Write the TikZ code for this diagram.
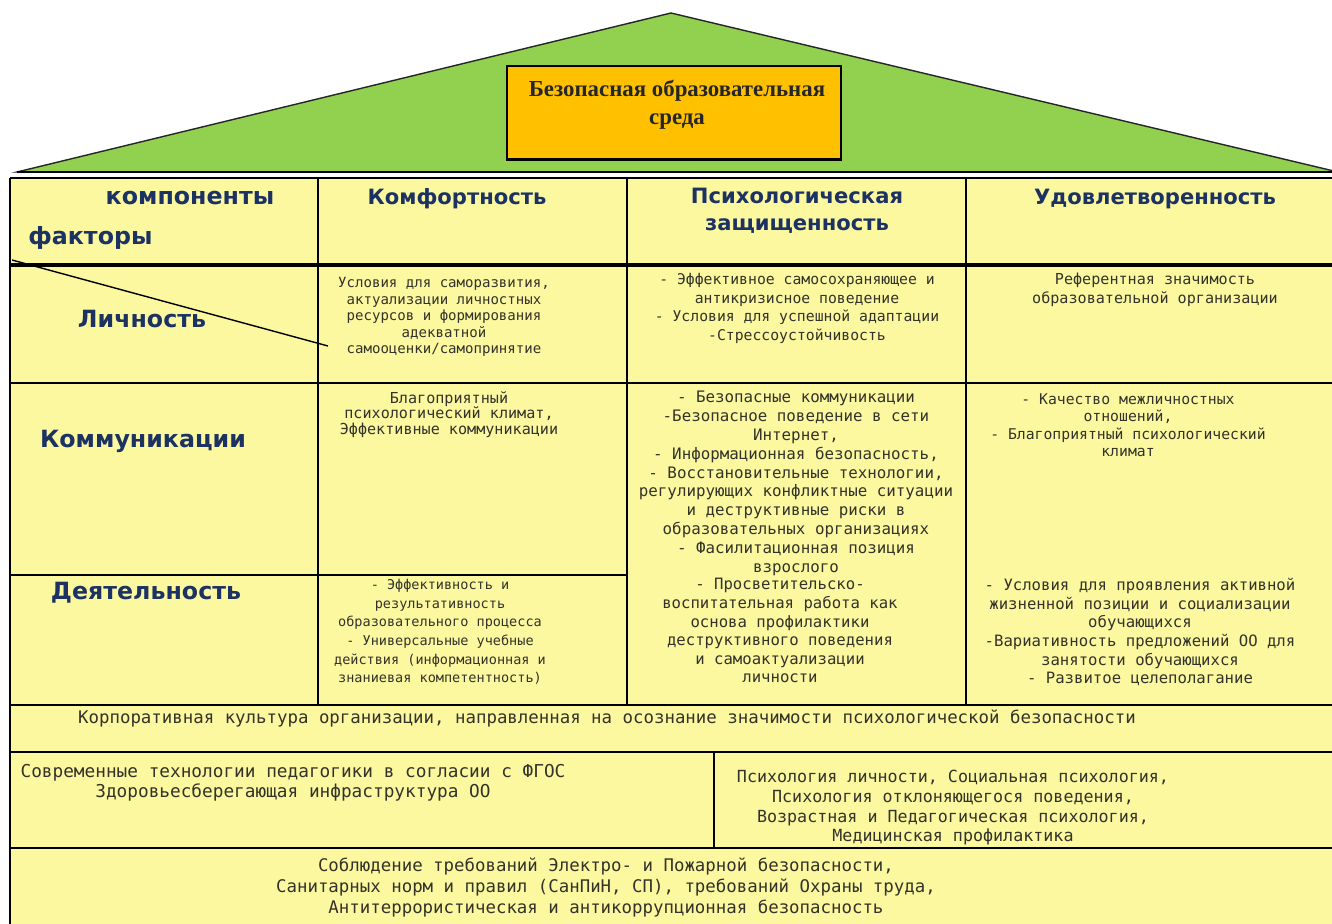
\documentclass[tikz,border=0pt]{standalone}
\usepackage{fontspec}
\newfontfamily\cellf{DejaVu Sans Mono}
\newfontfamily\headf{DejaVu Sans}
\newfontfamily\titlef{Liberation Serif}
\definecolor{roofgreen}{HTML}{92D050}
\definecolor{boxorange}{HTML}{FFC000}
\definecolor{cellyellow}{HTML}{FCF8A0}
\definecolor{headblue}{HTML}{1C3263}
\definecolor{celltext}{HTML}{33332A}
\newcommand{\cfs}[2]{\cellf\fontsize{#1}{#2}\selectfont}
\tikzset{
  hdr/.style={font=\headf\bfseries\fontsize{12}{15.4}\selectfont, text=headblue, align=center, inner sep=0pt},
  rowlbl/.style={font=\headf\bfseries\fontsize{13.5}{16}\selectfont, text=headblue, inner sep=0pt},
  celltxt/.style={text=celltext, align=center, inner sep=0pt, anchor=north},
  gridline/.style={line width=1.1pt, black},
  colline/.style={line width=1.4pt, black},
}
\begin{document}
\begin{tikzpicture}[x=0.02cm,y=-0.02cm]
\useasboundingbox (0,0) rectangle (1332,923);
\begin{scope}
\clip (0,0) rectangle (1332,923);
% roof
\filldraw[fill=roofgreen, draw=black!85, line width=0.8pt] (17,172) -- (671,13) -- (1338,172) -- cycle;
\draw[line width=1.4pt] (17,172) -- (1338,172);
% title box
\node[draw=black, line width=0.8pt, fill=boxorange, minimum width=6.68cm, minimum height=1.86cm, inner sep=0pt] (titlebox) at (674,112.5) {};
\draw[line width=1.6pt] (titlebox.south west) -- (titlebox.south east);
\node[font=\titlef\bfseries\fontsize{13}{16}\selectfont, text=black!85, align=center, inner sep=0pt] (title) at (677,105) {Безопасная образовательная\\среда};
% table background
\fill[cellyellow] (10,178) rectangle (1345,930);
% grid
\draw[gridline] (10,178) -- (1345,178);
\draw[gridline] (10,178) -- (10,930);
\draw[line width=2.8pt] (10,265) -- (1345,265);
\draw[gridline] (10,383) -- (1345,383);
\draw[gridline] (10,575) -- (627,575);
\draw[gridline] (10,705) -- (1345,705);
\draw[gridline] (10,752) -- (1345,752);
\draw[gridline] (10,848) -- (1345,848);
\draw[colline] (318,178) -- (318,705);
\draw[colline] (627,178) -- (627,705);
\draw[colline] (966,178) -- (966,705);
\draw[gridline] (714,752) -- (714,848);
\draw[line width=0.8pt] (12,260) -- (328,346);
\end{scope}
% headers
\node[rowlbl, anchor=base] (hkomp) at (190,204) {компоненты};
\node[rowlbl, anchor=base west] (hfakt) at (28,244) {факторы};
\node[hdr, anchor=base] (hc1) at (457,204) {Комфортность};
\node[hdr, anchor=north] (hc2) at (797,188) {Психологическая\\защищенность};
\node[hdr, anchor=base] (hc3) at (1155,204) {Удовлетворенность};
% row labels
\node[rowlbl, anchor=base] (r1) at (142,327) {Личность};
\node[rowlbl, anchor=base] (r2) at (143,447) {Коммуникации};
\node[rowlbl, anchor=base] (r3) at (146,599) {Деятельность};
% cells row 1
\node[celltxt, font=\cfs{8}{9.4}] (c11) at (444,277) {Условия для саморазвития,\\актуализации личностных\\ресурсов и формирования\\адекватной\\самооценки/самопринятие};
\node[celltxt, font=\cfs{8.4}{10.6}] (c12) at (797,273) {- Эффективное самосохраняющее и\\антикризисное поведение\\- Условия для успешной адаптации\\-Стрессоустойчивость};
\node[celltxt, font=\cfs{8.6}{10.6}] (c13) at (1155,273) {Референтная значимость\\образовательной организации};
% cells row 2
\node[celltxt, font=\cfs{8.6}{8.9}] (c21) at (449,391) {Благоприятный\\психологический климат,\\Эффективные коммуникации};
\node[celltxt, font=\cfs{9}{10.7}] (c22) at (796,391) {- Безопасные коммуникации\\-Безопасное поведение в сети\\Интернет,\\- Информационная безопасность,\\- Восстановительные технологии,\\регулирующих конфликтные ситуации\\и деструктивные риски в\\образовательных организациях\\- Фасилитационная позиция\\взрослого};
\node[celltxt, font=\cfs{8.4}{10}] (c23) at (1128,393) {- Качество межличностных\\отношений,\\- Благоприятный психологический\\климат};
% cells row 3
\node[celltxt, font=\cfs{7.7}{10.6}] (c31) at (440,579) {- Эффективность и\\результативность\\образовательного процесса\\- Универсальные учебные\\действия (информационная и\\знаниевая компетентность)};
\node[celltxt, font=\cfs{8.9}{10.6}] (c32) at (780,578) {- Просветительско-\\воспитательная работа как\\основа профилактики\\деструктивного поведения\\и самоактуализации\\личности};
\node[celltxt, font=\cfs{8.9}{10.6}] (c33) at (1140,578) {- Условия для проявления активной\\жизненной позиции и социализации\\обучающихся\\-Вариативность предложений ОО для\\занятости обучающихся\\- Развитое целеполагание};
% bottom rows
\node[text=celltext, inner sep=0pt, anchor=base, font=\cfs{9.9}{11.4}] (corp) at (607,723) {Корпоративная культура организации, направленная на осознание значимости психологической безопасности};
\node[celltxt, font=\cfs{10.1}{11.4}] (tech) at (293,764) {Современные технологии педагогики в согласии с ФГОС\\Здоровьесберегающая инфраструктура ОО};
\node[celltxt, font=\cfs{9.5}{11.2}] (psy) at (953,770) {Психология личности, Социальная психология,\\Психология отклоняющегося поведения,\\Возрастная и Педагогическая психология,\\Медицинская профилактика};
\node[celltxt, font=\cfs{9.9}{12}] (safety) at (606,857) {Соблюдение требований Электро- и Пожарной безопасности,\\Санитарных норм и правил (СанПиН, СП), требований Охраны труда,\\Антитеррористическая и антикоррупционная безопасность};
\end{tikzpicture}
\end{document}
